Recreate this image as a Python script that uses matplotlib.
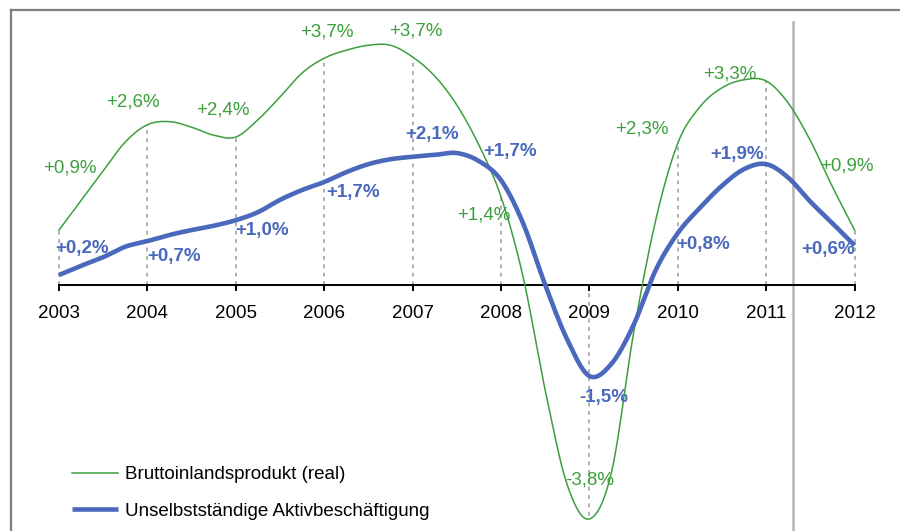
import numpy as np
import matplotlib
matplotlib.use("Agg")
import matplotlib.pyplot as plt
from matplotlib.lines import Line2D

plt.rcParams['font.family'] = ['Liberation Sans', 'DejaVu Sans']

# ---------------- data ----------------
years = [2003, 2004, 2005, 2006, 2007, 2008, 2009, 2010, 2011, 2012]
quarters = [2003 + 0.25 * i for i in range(37)]

gdp_q = [0.90, 1.38, 1.86, 2.33, 2.61, 2.66, 2.57, 2.44, 2.41, 2.69, 3.06, 3.45,
         3.69, 3.82, 3.90, 3.90, 3.71, 3.40, 2.93, 2.28, 1.44, 0.14, -1.70, -3.24,
         -3.79, -3.03, -0.77, 1.06, 2.31, 2.90, 3.21, 3.34, 3.32, 2.96, 2.35, 1.60,
         0.90]
emp_q = [0.17, 0.32, 0.46, 0.63, 0.72, 0.82, 0.90, 0.97, 1.06, 1.19, 1.39, 1.55,
         1.68, 1.84, 1.97, 2.05, 2.09, 2.12, 2.15, 2.02, 1.71, 1.01, 0.01, -0.88,
         -1.47, -1.27, -0.64, 0.25, 0.85, 1.26, 1.62, 1.89, 1.97, 1.75, 1.36, 1.01,
         0.65]

gdp_annual = [0.9, 2.6, 2.4, 3.7, 3.7, 1.4, -3.8, 2.3, 3.3, 0.9]
emp_annual = [0.2, 0.7, 1.0, 1.7, 2.1, 1.7, -1.5, 0.8, 1.9, 0.6]

series_names = ["Bruttoinlandsprodukt (real)", "Unselbstständige Aktivbeschäftigung"]
marker_year = 2011.3

# label offsets in pixels (dx, dy downward)
gdp_off = [(11, -62), (-14, -23), (-13, -27), (3, -26), (3, -26), (-17, 18),
           (0, -39), (-36, -14), (-36, -7), (-8, -64)]
emp_off = [(23, -27), (27, 15), (26, 10), (29, 10), (19, -22), (9, -29),
           (14, 21), (25, 11), (-29, -10), (-27, 4)]

GREEN = "#3c9f3c"
BLUE = "#4a69bd"
FS = 13.5


def catmull(x, y, n=20):
    x = np.asarray(x, float)
    y = np.asarray(y, float)
    px = np.concatenate([[2 * x[0] - x[1]], x, [2 * x[-1] - x[-2]]])
    py = np.concatenate([[2 * y[0] - y[1]], y, [2 * y[-1] - y[-2]]])
    xs, ys = [], []
    t = np.linspace(0, 1, n, endpoint=False)
    for i in range(1, len(px) - 2):
        p0, p1, p2, p3 = py[i - 1], py[i], py[i + 1], py[i + 2]
        q0, q1, q2, q3 = px[i - 1], px[i], px[i + 1], px[i + 2]
        t2, t3 = t * t, t * t * t
        ys.append(0.5 * (2 * p1 + (-p0 + p2) * t + (2 * p0 - 5 * p1 + 4 * p2 - p3) * t2
                         + (-p0 + 3 * p1 - 3 * p2 + p3) * t3))
        xs.append(0.5 * (2 * q1 + (-q0 + q2) * t + (2 * q0 - 5 * q1 + 4 * q2 - q3) * t2
                         + (-q0 + 3 * q1 - 3 * q2 + q3) * t3))
    xs.append([x[-1]])
    ys.append([y[-1]])
    return np.concatenate(xs), np.concatenate(ys)


W, H = 900, 531
fig = plt.figure(figsize=(W / 100, H / 100), dpi=100)
ax = fig.add_axes([0, 0, 1, 1])
pxy = 88.4   # px per year
pyv = 61.6   # px per percent
x0px, y0px = 59, 285.5
ax.set_xlim(2003 - x0px / pxy, 2003 + (W - x0px) / pxy)
ax.set_ylim((y0px - H) / pyv, y0px / pyv)

for s in ['top', 'right', 'left']:
    ax.spines[s].set_visible(False)
ax.spines['bottom'].set_position(('data', 0))
ax.spines['bottom'].set_bounds(years[0], years[-1])
ax.spines['bottom'].set_linewidth(1.4)
ax.set_yticks([])
ax.set_xticks(years)
ax.set_xticklabels([str(y) for y in years])
ax.tick_params(axis='x', direction='out', length=4.5, width=1.4, pad=9.5,
               labelsize=FS, colors='black')

# dotted drop lines
gdp_at_years = gdp_q[::4]
for yr, v in zip(years, gdp_at_years):
    ax.plot([yr, yr], [0, v], color='#999999', lw=1.1, ls=(0, (2.5, 3)), zorder=1)

# curves
gx, gy = catmull(quarters, gdp_q)
ex, ey = catmull(quarters, emp_q)
ax.plot(gx, gy, color=GREEN, lw=1.1, zorder=3, label=series_names[0],
        solid_joinstyle='round')
ax.plot(ex, ey, color=BLUE, lw=3.3, zorder=4, label=series_names[1],
        solid_capstyle='butt', solid_joinstyle='round')

# vertical marker line
ax.axvline(marker_year, ymin=0, ymax=1 - 22 / H, color='#b4b4b4', lw=1.8, zorder=2)


def fmt(v):
    s = f"{v:+.1f}".replace('.', ',')
    return s + "%"


emp_at_years = emp_q[::4]
for yr, gv, lab, (dx, dy) in zip(years, gdp_at_years, gdp_annual, gdp_off):
    ax.annotate(fmt(lab), (yr, gv), xytext=(dx * 0.72, -dy * 0.72),
                textcoords='offset points', ha='center', va='center',
                color=GREEN, fontsize=FS, zorder=6)
for yr, ev, lab, (dx, dy) in zip(years, emp_at_years, emp_annual, emp_off):
    ax.annotate(fmt(lab), (yr, ev), xytext=(dx * 0.72, -dy * 0.72),
                textcoords='offset points', ha='center', va='center',
                color=BLUE, fontsize=FS, fontweight='bold', zorder=6)

leg = ax.legend(loc='upper left', bbox_to_anchor=(72 / W, 1 - 466 / H),
                frameon=False, fontsize=FS, handlelength=2.45,
                handletextpad=0.37, labelspacing=1.05, borderpad=0,
                borderaxespad=0)

# outer frame (top and left)
fig.add_artist(Line2D([11 / W, 1], [1 - 10 / H, 1 - 10 / H], color='#7f7f7f',
                      lw=1.6, transform=fig.transFigure))
fig.add_artist(Line2D([11 / W, 11 / W], [0, 1 - 10 / H], color='#7f7f7f',
                      lw=1.6, transform=fig.transFigure))

fig.savefig("out.png", dpi=100)
